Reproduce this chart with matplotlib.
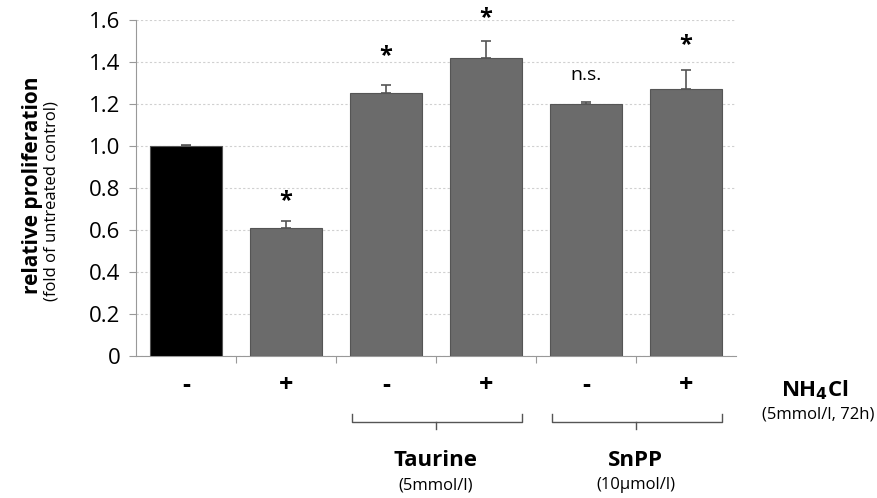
import numpy as np
import matplotlib.pyplot as plt

plt.rcParams['font.family'] = ['Open Sans', 'DejaVu Sans']

signs = ['-', '+', '-', '+', '-', '+']
values = [1.0, 0.61, 1.25, 1.42, 1.2, 1.27]
errors = [0.005, 0.035, 0.04, 0.08, 0.01, 0.09]
marks = ['', '*', '*', '*', 'n.s.', '*']
mark_y = [0, 0.74, 1.43, 1.61, 1.34, 1.48]
colors = ['#000000', '#6b6b6b', '#6b6b6b', '#6b6b6b', '#6b6b6b', '#6b6b6b']
groups = [('Taurine', '(5mmol/l)', 2, 3), ('SnPP', '(10\u00b5mol/l)', 4, 5)]

fig = plt.figure(figsize=(8.77, 4.98), dpi=100)
ax = fig.add_axes([0.155, 0.285, 0.684, 0.675])

x = np.arange(len(values))
ax.bar(x, values, width=0.72, color=colors, edgecolor='#555555', linewidth=0.8, zorder=3)
ax.errorbar(x, values, yerr=[np.zeros(len(errors)), errors], fmt='none',
            ecolor='#555555', elinewidth=1.2, capsize=3.5, capthick=1.2, zorder=4)

for xi, m, my in zip(x, marks, mark_y):
    if m == '*':
        ax.text(xi, my, '*', ha='center', va='center', fontsize=17, fontweight='bold', clip_on=False)
    elif m:
        ax.text(xi, my, m, ha='center', va='center', fontsize=14, clip_on=False)

ax.set_xlim(-0.5, 5.5)
ax.set_ylim(0, 1.6)
ax.set_yticks(np.arange(0, 1.61, 0.2))
ax.set_yticklabels(['0'] + ['%.1f' % v for v in np.arange(0.2, 1.61, 0.2)], fontsize=16)
ax.yaxis.grid(True, linestyle=(0, (2, 2)), color='#d0d0d0', linewidth=0.8, zorder=0)
ax.set_axisbelow(True)

ax.set_xticks(np.arange(0.5, 5.0, 1.0))
ax.set_xticklabels([])
ax.tick_params(axis='x', direction='out', length=5, color='#999999')
ax.tick_params(axis='y', direction='out', length=5, color='#999999', pad=6)
for s in ['top', 'right']:
    ax.spines[s].set_visible(False)
for s in ['left', 'bottom']:
    ax.spines[s].set_color('#999999')

for xi, s in zip(x, signs):
    ax.text(xi, -0.138, s, ha='center', va='center', fontsize=18, fontweight='bold', clip_on=False)

for name, conc, a, b in groups:
    xa, xb = a - 0.34, b + 0.36
    yb = -0.314
    ax.plot([xa, xa, xb, xb], [yb + 0.04, yb, yb, yb + 0.04], color='#555555', lw=1, clip_on=False)
    xm = (a + b) / 2
    ax.plot([xm, xm], [yb, yb - 0.034], color='#555555', lw=1, clip_on=False)
    ax.text(xm, -0.495, name, ha='center', va='center', fontsize=16, fontweight='bold', clip_on=False)
    ax.text(xm, -0.614, conc, ha='center', va='center', fontsize=12, clip_on=False)

ax.text(6.29, -0.162, r'NH$_\mathbf{4}$Cl', ha='center', va='center', fontsize=16, fontweight='bold', clip_on=False)
ax.text(6.32, -0.276, '(5mmol/l, 72h)', ha='center', va='center', fontsize=12, clip_on=False)

fig.text(0.037, 0.628, 'relative proliferation', rotation=90, ha='center', va='center',
         fontsize=15, fontweight='bold')
fig.text(0.059, 0.597, '(fold of untreated control)', rotation=90, ha='center', va='center',
         fontsize=12)

fig.savefig('out.png', dpi=100)
